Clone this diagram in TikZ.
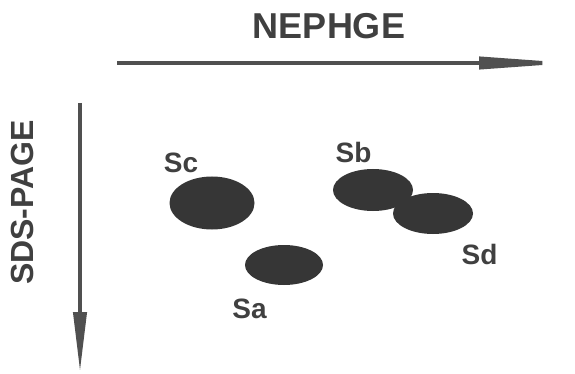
\documentclass[tikz,border=0pt]{standalone}
\usepackage{fontspec}
\setmainfont{Liberation Sans}
\usetikzlibrary{shapes.geometric,arrows.meta}
\definecolor{spotgray}{HTML}{363636}
\definecolor{axisgray}{HTML}{505050}
\definecolor{textgray}{HTML}{404040}
\tikzset{
  spot/.style={ellipse, fill=spotgray, draw=none, inner sep=0pt},
  spotlabel/.style={text=textgray, font=\bfseries\fontsize{28}{28}\selectfont, inner sep=0pt},
  axislabel/.style={text=textgray, font=\bfseries\fontsize{36}{36}\selectfont, inner sep=0pt},
  axisarrow/.style={draw=axisgray, line width=4pt}
}
\begin{document}
\begin{tikzpicture}[x=1pt,y=-1pt]
\useasboundingbox (0,0) rectangle (575,374);
% axes
\node[axislabel] (neph) at (329,26.5) {NEPHGE};
\coordinate (hs) at (117,63);
\coordinate (he) at (574,63);
\draw[axisarrow,-{Stealth[length=95pt,width=12pt,inset=0pt]}] (hs) -- (he);
\node[axislabel, font=\bfseries\fontsize{32}{32}\selectfont, rotate=90] (sds) at (22.5,202.5) {SDS-PAGE};
\coordinate (vs) at (80,103);
\coordinate (ve) at (80,372);
\draw[axisarrow,-{Stealth[length=60pt,width=13pt,inset=0pt]}] (vs) -- (ve);
% spots
\node[spot, minimum width=85pt, minimum height=53pt] (sc) at (212,203) {};
\node[spot, minimum width=80pt, minimum height=42pt] (sb) at (373,190) {};
\node[spot, minimum width=80pt, minimum height=41pt] (sd) at (433,213.5) {};
\node[spot, minimum width=78pt, minimum height=40pt] (sa) at (284,265) {};
% labels
\node[spotlabel] (lsc) at (181,162.5) {Sc};
\node[spotlabel] (lsb) at (353.5,152.5) {Sb};
\node[spotlabel] (lsd) at (479.5,254) {Sd};
\node[spotlabel] (lsa) at (249.5,308.5) {Sa};
\end{tikzpicture}
\end{document}
